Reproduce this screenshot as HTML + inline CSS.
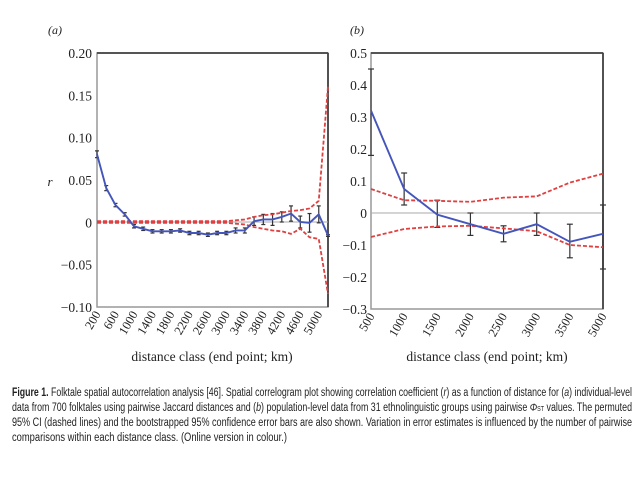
<!DOCTYPE html>
<html><head><meta charset="utf-8"><style>
body{margin:0;background:#fff;width:640px;height:480px;overflow:hidden}
svg{display:block}
</style></head><body>
<svg id="s" width="640" height="480" xmlns="http://www.w3.org/2000/svg" font-family="Liberation Serif, serif">
</svg>
<script>
var s=document.getElementById('s'),h='';
function L(x1,y1,x2,y2,c,w,d){h+='<line x1="'+x1+'" y1="'+y1+'" x2="'+x2+'" y2="'+y2+'" stroke="'+c+'" stroke-width="'+w+'"'+(d?' stroke-dasharray="'+d+'"':'')+'/>';}
function P(pts,c,w,d){h+='<polyline fill="none" points="'+pts.join(' ')+'" stroke="'+c+'" stroke-width="'+w+'"'+(d?' stroke-dasharray="'+d+'"':'')+'/>';}
function T(x,y,t,a,sz,ex){h+='<text x="'+x+'" y="'+y+'" font-size="'+(sz||13)+'" text-anchor="'+(a||'start')+'" fill="#222" '+(ex||'')+'>'+t+'</text>';}
// Panel a
var ax0=97,ax1=328,ay0=53,ay1=307,z=222,k=846.7,dx=9.24;
function ya(v){return z-v*k;}
h+='<rect x="'+ax0+'" y="'+ay0+'" width="'+(ax1-ax0)+'" height="'+(ay1-ay0)+'" fill="none" stroke="#999" stroke-width="1.5"/>';
L(ax0,ay0,ax1,ay0,'#444',1.8);L(ax1,ay0,ax1,ay1,'#444',1.8);
L(ax0,z,ax1,z,'#aaa',1);
var yl=['0.20','0.15','0.10','0.05','0','&#8722;0.05','&#8722;0.10'];
for(var i=0;i<7;i++){T(92,ay0+i*42.33+5,yl[i],'end',13.5);}
var ra=[0.08,0.04,0.02,0.009,-0.005,-0.008,-0.011,-0.011,-0.011,-0.010,-0.013,-0.013,-0.015,-0.013,-0.013,-0.010,-0.010,0.001,0.003,0.003,0.006,0.010,0.000,-0.001,0.009,-0.016];
var up=[.001,.001,.001,.001,.001,.001,.001,.001,.001,.001,.001,.001,.001,.001,.001,.002,.003,.006,.008,.009,.011,.013,.014,.016,.025,.16];
var lo=[-.001,-.001,-.001,-.001,-.001,-.001,-.001,-.001,-.001,-.001,-.001,-.001,-.001,-.001,-.001,-.002,-.003,-.006,-.008,-.010,-.011,-.014,-.008,-.018,-.020,-.085];
var e=[.004,.003,.002,.002,.002,.002,.002,.002,.002,.002,.002,.002,.002,.002,.002,.003,.003,.005,.006,.007,.006,.009,.007,.011,.01,.001];
var pa=[],pu=[],pl=[];
for(var i=0;i<26;i++){var x=ax0+i*dx;pa.push(x+','+ya(ra[i]));pu.push(x+','+ya(up[i]));pl.push(x+','+ya(lo[i]));
L(x,ya(ra[i]+e[i]),x,ya(ra[i]-e[i]),'#333',1.2);L(x-2,ya(ra[i]+e[i]),x+2,ya(ra[i]+e[i]),'#333',1.2);L(x-2,ya(ra[i]-e[i]),x+2,ya(ra[i]-e[i]),'#333',1.2);}
P(pu,'#e04040',1.8,'4,2');P(pl,'#e04040',1.8,'4,2');P(pa,'#4455bb',1.9);
for(var i=0;i<13;i++){var x=ax0+i*2*dx+4;T(x,314,(200+i*400)+'','end',12.5,'transform="rotate(-60 '+x+' 314)"');}
T(212,361,'distance class (end point; km)','middle',13.5);
T(50,186,'r','middle',13,'font-style="italic"');
T(48,34,'(a)','start',12,'font-style="italic"');
// Panel b
var bx0=371,bx1=603,by0=53,by1=309,bz=213,bk=320,bdx=33.14;
function yb(v){return bz-v*bk;}
h+='<rect x="'+bx0+'" y="'+by0+'" width="'+(bx1-bx0)+'" height="'+(by1-by0)+'" fill="none" stroke="#999" stroke-width="1.5"/>';
L(bx0,by0,bx1,by0,'#444',1.8);L(bx1,by0,bx1,by1,'#444',1.8);
L(bx0,bz,bx1,bz,'#aaa',1);
var bl=['0.5','0.4','0.3','0.2','0.1','0','&#8722;0.1','&#8722;0.2','&#8722;0.3'];
for(var i=0;i<9;i++){T(367,by0+i*32+5,bl[i],'end',13.5);}
var rb=[0.32,0.075,-0.005,-0.035,-0.065,-0.035,-0.09,-0.065];
var eb=[[.18,.45],[.025,.125],[-.045,.04],[-.07,0],[-.09,-.04],[-.07,0],[-.14,-.035],[-.175,.025]];
var ub=[.075,.04,.038,.035,.048,.052,.095,.123],lb=[-.075,-.05,-.042,-.04,-.048,-.057,-.1,-.107];
var xl=['500','1000','1500','2000','2500','3000','3500','5000'];
var q=[],qu=[],ql=[];
for(var i=0;i<8;i++){var x=bx0+i*bdx;q.push(x+','+yb(rb[i]));qu.push(x+','+yb(ub[i]));ql.push(x+','+yb(lb[i]));
L(x,yb(eb[i][0]),x,yb(eb[i][1]),'#333',1.2);L(x-3,yb(eb[i][0]),x+3,yb(eb[i][0]),'#333',1.2);L(x-3,yb(eb[i][1]),x+3,yb(eb[i][1]),'#333',1.2);
T(x+4,316,xl[i],'end',12.5,'transform="rotate(-60 '+(x+4)+' 316)"');}
P(qu,'#e04040',1.8,'4,2');P(ql,'#e04040',1.8,'4,2');P(q,'#4455bb',1.9);
T(487,361,'distance class (end point; km)','middle',13.5);
T(350,34,'(b)','start',12,'font-style="italic"');
// caption
var cap=['<tspan font-weight="bold">Figure 1.</tspan> Folktale spatial autocorrelation analysis [46]. Spatial correlogram plot showing correlation coefficient (<tspan font-style="italic">r</tspan>) as a function of distance for (<tspan font-style="italic">a</tspan>) individual-level',
'data from 700 folktales using pairwise Jaccard distances and (<tspan font-style="italic">b</tspan>) population-level data from 31 ethnolinguistic groups using pairwise <tspan font-style="italic">&#934;</tspan><tspan font-size="7">ST</tspan> values. The permuted',
'95% CI (dashed lines) and the bootstrapped 95% confidence error bars are also shown. Variation in error estimates is influenced by the number of pairwise',
'comparisons within each distance class. (Online version in colour.)'];
var ends=[632,632,632,287];
for(var i=0;i<4;i++){h+='<text x="12" y="'+(396+i*15)+'" font-family="Liberation Sans, sans-serif" font-size="11.5" fill="#222" textLength="'+(ends[i]-12)+'" lengthAdjust="spacingAndGlyphs">'+cap[i]+'</text>';}
s.innerHTML=h;
</script>
</body></html>
